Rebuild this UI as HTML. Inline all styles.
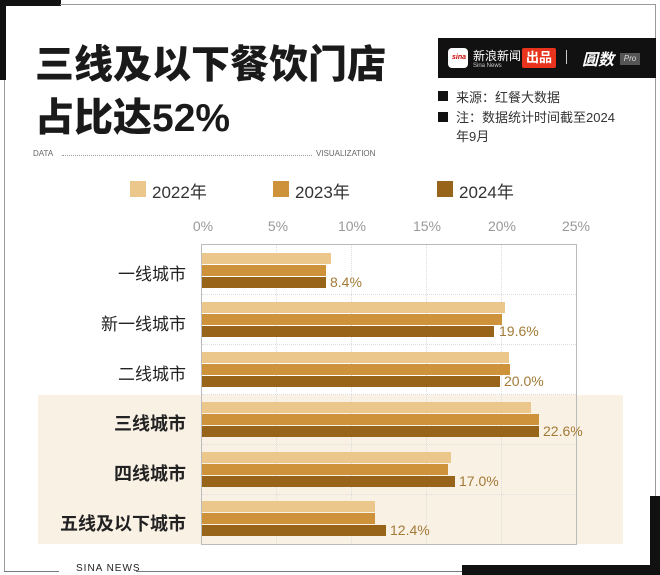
<!DOCTYPE html>
<html><head><meta charset="utf-8"><style>
body{margin:0;width:660px;height:575px;background:#fff;position:relative;overflow:hidden;font-family:"Liberation Sans","Noto Sans CJK SC",sans-serif}
div{position:absolute}
.t{font-weight:900;font-size:39px;color:#1a1a1a;left:35px;white-space:nowrap;line-height:48px}
.bar{height:11px}
.c1{background:#ebc78c}.c2{background:#cd923a}.c3{background:#976419}
.val{font-size:14px;color:#a27a36}
.cat{font-size:17px;color:#222;right:474px;text-align:right;white-space:nowrap}
.b{font-weight:bold;font-size:18px}
.tick{font-size:14px;color:#999;top:218px;width:40px;text-align:center}
.grid{border-left:1px dotted #ddd;top:245px;height:299px}
.hg{border-top:1px dotted #ddd;left:202px;width:374px}
</style></head><body>
<div style="left:0;top:0;width:61px;height:6px;background:#111"></div>
<div style="left:0;top:0;width:6px;height:80px;background:#111"></div>
<div style="left:60px;top:4px;width:596px;height:1px;background:#999"></div>
<div style="left:4px;top:80px;width:1px;height:491px;background:#999"></div>
<div style="left:655px;top:4px;width:1px;height:492px;background:#999"></div>
<div style="left:4px;top:571px;width:55px;height:1px;background:#777"></div>
<div style="left:136px;top:571px;width:330px;height:1px;background:#777"></div>
<div style="left:76px;top:563px;font-size:10px;letter-spacing:1px;color:#222">SINA NEWS</div>
<div style="left:650px;top:496px;width:10px;height:79px;background:#111"></div>
<div style="left:462px;top:565px;width:198px;height:10px;background:#111"></div>

<div class="t" style="top:42px">三线及以下餐饮门店</div>
<div class="t" style="top:95px">占比达52%</div>
<div style="left:33px;top:149px;font-size:8px;color:#666">DATA</div>
<div style="left:62px;top:155px;width:250px;border-top:1px dotted #999"></div>
<div style="left:316px;top:149px;font-size:8px;color:#666">VISUALIZATION</div>

<div style="left:438px;top:38px;width:218px;height:40px;background:#111"></div>
<div style="left:448px;top:48px;width:20px;height:20px;background:#fff;border-radius:4px"></div>
<div style="left:452px;top:54px;font-size:7px;color:#c00;font-style:italic;font-weight:bold">sina</div>
<div style="left:473px;top:47px;font-size:12px;color:#fff">新浪新闻</div>
<div style="left:473px;top:63px;font-size:6px;color:#ccc">Sina News</div>
<div style="left:522px;top:48px;width:34px;height:20px;background:#e8341c;border-radius:2px;color:#fff;font-size:13px;font-weight:bold;text-align:center;line-height:20px">出品</div>
<div style="left:566px;top:50px;width:1px;height:14px;background:#ccc"></div>
<div style="left:582px;top:46px;font-size:16px;color:#fff;font-weight:bold;font-style:italic">圓数</div>
<div style="left:620px;top:53px;width:20px;height:12px;background:#555;color:#ddd;font-size:8px;font-style:italic;text-align:center;line-height:12px">Pro</div>

<div style="left:438px;top:91px;width:10px;height:10px;background:#111"></div>
<div style="left:456px;top:87px;font-size:13px;color:#333">来源：红餐大数据</div>
<div style="left:438px;top:112px;width:10px;height:10px;background:#111"></div>
<div style="left:456px;top:108px;font-size:13px;color:#333;width:172px;line-height:19px">注：数据统计时间截至2024<br>年9月</div>

<div style="left:130px;top:181px;width:16px;height:16px;background:#ebc78c"></div>
<div style="left:152px;top:178px;font-size:17px;color:#333">2022年</div>
<div style="left:273px;top:181px;width:16px;height:16px;background:#cd923a"></div>
<div style="left:295px;top:178px;font-size:17px;color:#333">2023年</div>
<div style="left:437px;top:181px;width:16px;height:16px;background:#976419"></div>
<div style="left:459px;top:178px;font-size:17px;color:#333">2024年</div>

<div class="tick" style="left:183px">0%</div>
<div class="tick" style="left:258px">5%</div>
<div class="tick" style="left:332px">10%</div>
<div class="tick" style="left:407px">15%</div>
<div class="tick" style="left:482px">20%</div>
<div class="tick" style="left:556px">25%</div>

<div style="left:38px;top:395px;width:585px;height:149px;background:#faf1e5"></div>
<div style="left:201px;top:244px;width:374px;height:299px;border:1px solid #bbb;background:transparent"></div>
<div class="grid" style="left:276px"></div><div class="grid" style="left:351px"></div><div class="grid" style="left:426px"></div><div class="grid" style="left:501px"></div>
<div class="hg" style="top:294px"></div><div class="hg" style="top:344px"></div><div class="hg" style="top:394px"></div><div class="hg" style="top:444px"></div><div class="hg" style="top:494px"></div>

<div class="cat" style="top:260px">一线城市</div>
<div class="bar c1" style="left:202px;top:253px;width:129px"></div>
<div class="bar c2" style="left:202px;top:265px;width:124px"></div>
<div class="bar c3" style="left:202px;top:277px;width:124px"></div>
<div class="val" style="left:330px;top:274px">8.4%</div>

<div class="cat" style="top:310px">新一线城市</div>
<div class="bar c1" style="left:202px;top:302px;width:303px"></div>
<div class="bar c2" style="left:202px;top:314px;width:300px"></div>
<div class="bar c3" style="left:202px;top:326px;width:292px"></div>
<div class="val" style="left:499px;top:323px">19.6%</div>

<div class="cat" style="top:360px">二线城市</div>
<div class="bar c1" style="left:202px;top:352px;width:307px"></div>
<div class="bar c2" style="left:202px;top:364px;width:308px"></div>
<div class="bar c3" style="left:202px;top:376px;width:298px"></div>
<div class="val" style="left:504px;top:373px">20.0%</div>

<div class="cat b" style="top:410px">三线城市</div>
<div class="bar c1" style="left:202px;top:402px;width:329px"></div>
<div class="bar c2" style="left:202px;top:414px;width:337px"></div>
<div class="bar c3" style="left:202px;top:426px;width:337px"></div>
<div class="val" style="left:543px;top:423px">22.6%</div>

<div class="cat b" style="top:460px">四线城市</div>
<div class="bar c1" style="left:202px;top:452px;width:249px"></div>
<div class="bar c2" style="left:202px;top:464px;width:246px"></div>
<div class="bar c3" style="left:202px;top:476px;width:253px"></div>
<div class="val" style="left:459px;top:473px">17.0%</div>

<div class="cat b" style="top:510px">五线及以下城市</div>
<div class="bar c1" style="left:202px;top:501px;width:173px"></div>
<div class="bar c2" style="left:202px;top:513px;width:173px"></div>
<div class="bar c3" style="left:202px;top:525px;width:184px"></div>
<div class="val" style="left:390px;top:522px">12.4%</div>
</body></html>
